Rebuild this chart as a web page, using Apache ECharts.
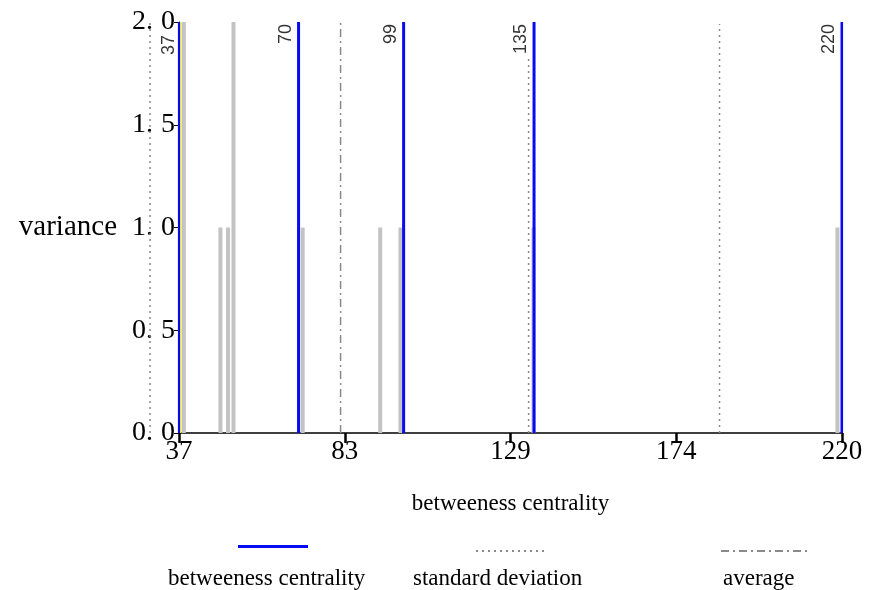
<!DOCTYPE html>
<html><head><meta charset="utf-8">
<script src="https://cdn.jsdelivr.net/npm/echarts@6/dist/echarts.min.js"></script>
<style>html,body{margin:0;padding:0;background:#fff}#c{width:869px;height:590px}</style>
</head><body><div id="c"></div>
<script>
// ---- data ----
const xTicks = [37, 82.75, 128.5, 174.25, 220];
const yTicks = [0, 0.5, 1, 1.5, 2];
const centralityX = [37, 70, 99, 135, 220];
const centralityY = [2, 2, 2, 2, 2];
const grayX = [38.2, 48.3, 50.4, 51.9, 71, 92.4, 98, 134.7, 218.6];
const grayY = [2, 1, 1, 2, 1, 1, 1, 1, 1];
const stdX = [133.5, 186.2];
const stdTop = [1.83, 1.99];
const stdOuterX = [29];      // lies left of the x-axis start
const stdOuterTop = [2];
const avgX = [81.6];
const avgTop = [2];
const highlightX = [37.5];
const highlightTop = [2];

const SERIF = '"Liberation Serif","Times New Roman",serif';
const X_MIN = 37, X_MAX = 220;
// second (invisible) grid extends 39px further left with the same scale
const GRID_LEFT = 179, GRID_RIGHT = 27, EXTRA = 39;
const PLOT_W = 869 - GRID_LEFT - GRID_RIGHT;
const X_MIN_OUTER = X_MIN - EXTRA * (X_MAX - X_MIN) / PLOT_W;

function segments(xs, tops) {
  const out = [];
  xs.forEach((x, i) => { out.push([x, 0]); out.push([x, tops[i]]); out.push([x, '-']); });
  return out;
}

const stdStyle = {color: '#8a8a8a', width: 1.5, type: [2, 4]};

const chart = echarts.init(document.getElementById('c'), null, {renderer: 'canvas'});
chart.setOption({
  animation: false,
  backgroundColor: '#fff',
  grid: [
    {left: GRID_LEFT, right: GRID_RIGHT, top: 22, bottom: 157, containLabel: false},
    {left: GRID_LEFT - EXTRA, right: GRID_RIGHT, top: 22, bottom: 157, containLabel: false}
  ],
  xAxis: [{
    type: 'value', min: X_MIN, max: X_MAX, gridIndex: 0,
    name: 'betweeness centrality', nameLocation: 'middle', nameGap: 59,
    nameTextStyle: {fontFamily: SERIF, fontSize: 23, color: '#000'},
    axisLine: {lineStyle: {color: '#000', width: 1.5}},
    axisTick: {customValues: xTicks, length: 10, lineStyle: {color: '#000', width: 2.5}},
    axisLabel: {customValues: xTicks, formatter: v => String(Math.round(v)), fontFamily: SERIF, fontSize: 27, color: '#000', margin: 5},
    splitLine: {show: false}
  }, {
    type: 'value', min: X_MIN_OUTER, max: X_MAX, gridIndex: 1, show: false, splitLine: {show: false}
  }],
  yAxis: [{
    type: 'value', min: 0, max: 2, interval: 0.5, gridIndex: 0,
    name: 'variance', nameLocation: 'middle', nameRotate: 0, nameGap: 62,
    nameTextStyle: {fontFamily: SERIF, fontSize: 29, color: '#000'},
    axisLine: {show: true, lineStyle: {color: '#000', width: 1}},
    axisTick: {show: true, length: 5, lineStyle: {color: '#000'}},
    axisLabel: {
      fontFamily: SERIF, fontSize: 28, color: '#000', margin: 4,
      formatter: v => { const s = v.toFixed(1).split('.'); return '{a|' + s[0] + '.}{b|' + s[1] + '}'; },
      rich: {a: {fontFamily: SERIF, fontSize: 28, color: '#000'}, b: {fontFamily: SERIF, fontSize: 28, color: '#000', padding: [0, 0, 0, 8]}}
    },
    splitLine: {show: false}
  }, {
    type: 'value', min: 0, max: 2, gridIndex: 1, show: false, splitLine: {show: false}
  }],
  legend: [
    {data: ['betweeness centrality'], left: 233, top: 540, itemWidth: 70, itemHeight: 3, icon: 'rect', formatter: () => '', selectedMode: false},
    {data: ['standard deviation'], left: 470, top: 540, itemWidth: 72, itemHeight: 12, formatter: () => '', selectedMode: false, itemStyle: {opacity: 0}},
    {data: ['average'], left: 715, top: 540, itemWidth: 88, itemHeight: 12, formatter: () => '', selectedMode: false, itemStyle: {opacity: 0}},
    {data: ['betweeness centrality'], left: 158, top: 562, itemWidth: 0, itemHeight: 0, selectedMode: false, textStyle: {fontFamily: SERIF, fontSize: 23, color: '#000'}},
    {data: ['standard deviation'], left: 402, top: 562, itemWidth: 0, itemHeight: 0, selectedMode: false, textStyle: {fontFamily: SERIF, fontSize: 23, color: '#000'}},
    {data: ['average'], left: 712, top: 562, itemWidth: 0, itemHeight: 0, selectedMode: false, textStyle: {fontFamily: SERIF, fontSize: 23, color: '#000'}}
  ],
  series: [
    {
      name: 'gray', type: 'bar', barWidth: 4, barGap: '-100%',
      itemStyle: {color: '#c3c3c3'},
      data: grayX.map((x, i) => [x, grayY[i]]), z: 1
    },
    {
      name: 'standard deviation', type: 'line', symbol: 'none', connectNulls: false,
      lineStyle: stdStyle, itemStyle: {color: '#8a8a8a'},
      data: segments(stdX, stdTop), z: 2
    },
    {
      name: 'standard deviation', type: 'line', symbol: 'none', connectNulls: false,
      xAxisIndex: 1, yAxisIndex: 1,
      lineStyle: stdStyle, itemStyle: {color: '#8a8a8a'},
      data: segments(stdOuterX, stdOuterTop), z: 2
    },
    {
      name: 'average', type: 'line', symbol: 'none', connectNulls: false,
      lineStyle: {color: '#8a8a8a', width: 1.5, type: [8, 4, 2, 4]}, itemStyle: {color: '#8a8a8a'},
      data: segments(avgX, avgTop), z: 2
    },
    {
      name: 'highlight', type: 'line', symbol: 'none', connectNulls: false,
      lineStyle: {color: '#e6e640', width: 1.5},
      data: segments(highlightX, highlightTop), z: 4
    },
    {
      name: 'betweeness centrality', type: 'bar', barWidth: 3, barGap: '-100%',
      itemStyle: {color: '#0a0af0'},
      data: centralityX.map((x, i) => [x, centralityY[i]]), z: 3
    },
    {
      name: 'labels', type: 'scatter', symbolSize: 0,
      data: centralityX.map((x, i) => i === 0
        ? {value: [x, centralityY[i]], label: {padding: [0, 13, 1, 0]}}
        : [x, centralityY[i]]),
      label: {
        show: true, position: 'inside', rotate: 90, align: 'right', verticalAlign: 'bottom',
        formatter: p => String(p.value[0]), padding: [0, 2, 4, 0],
        fontFamily: '"Liberation Sans",Arial,sans-serif', fontSize: 18, color: '#000'
      },
      z: 5
    }
  ]
});
</script></body></html>
